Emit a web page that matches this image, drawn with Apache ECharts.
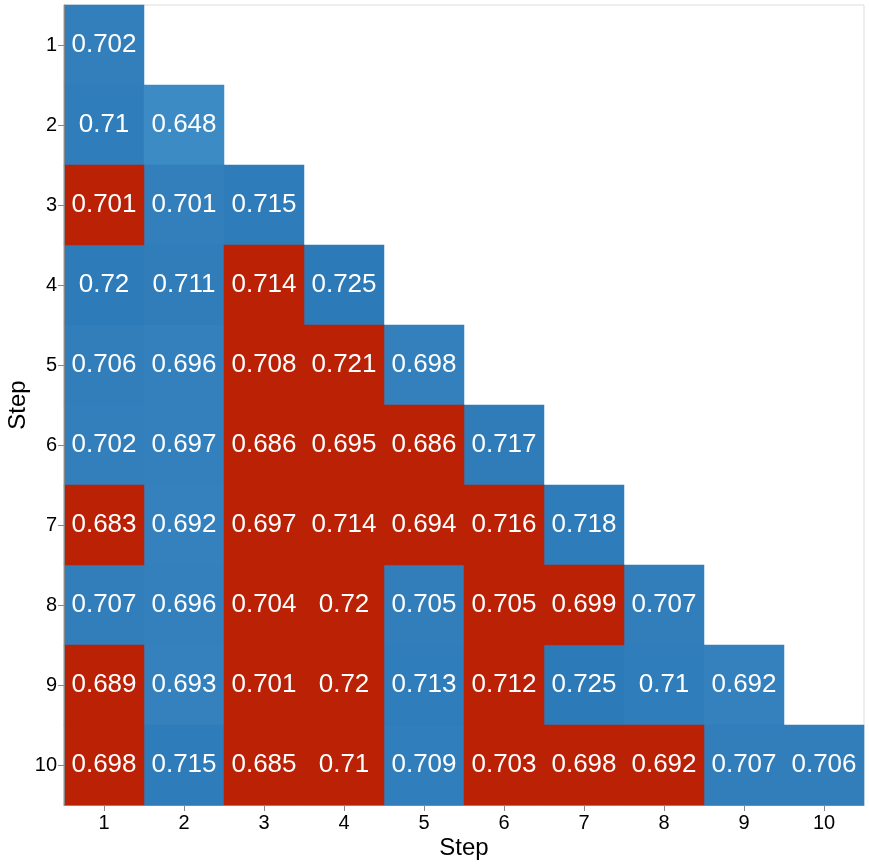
<!DOCTYPE html>
<html>
<head>
<meta charset="utf-8">
<script src="https://cdn.jsdelivr.net/npm/echarts@6/dist/echarts.min.js"></script>
<style>
  html, body { margin: 0; padding: 0; background: #fff; }
  #chart { width: 869px; height: 866px; }
</style>
</head>
<body>
<div id="chart"></div>
<script>
// step labels for both axes
const steps = ["1", "2", "3", "4", "5", "6", "7", "8", "9", "10"];

// lower triangle, one row per y step
const values = [
  [0.702],
  [0.71, 0.648],
  [0.701, 0.701, 0.715],
  [0.72, 0.711, 0.714, 0.725],
  [0.706, 0.696, 0.708, 0.721, 0.698],
  [0.702, 0.697, 0.686, 0.695, 0.686, 0.717],
  [0.683, 0.692, 0.697, 0.714, 0.694, 0.716, 0.718],
  [0.707, 0.696, 0.704, 0.72, 0.705, 0.705, 0.699, 0.707],
  [0.689, 0.693, 0.701, 0.72, 0.713, 0.712, 0.725, 0.71, 0.692],
  [0.698, 0.715, 0.685, 0.71, 0.709, 0.703, 0.698, 0.692, 0.707, 0.706]
];

// 1 = red cell
const flagged = [
  [0],
  [0, 0],
  [1, 0, 0],
  [0, 0, 1, 0],
  [0, 0, 1, 1, 0],
  [0, 0, 1, 1, 1, 0],
  [1, 0, 1, 1, 1, 1, 0],
  [0, 0, 1, 1, 0, 1, 1, 0],
  [1, 0, 1, 1, 0, 1, 0, 0, 0],
  [1, 0, 1, 1, 0, 1, 1, 1, 0, 0]
];

const blueData = [];
const redData = [];
values.forEach((row, yi) => {
  row.forEach((v, xi) => {
    const item = [xi, yi, v];
    if (flagged[yi][xi]) redData.push(item);
    else blueData.push(item);
  });
});

const chart = echarts.init(document.getElementById("chart"));

const cellLabel = {
  show: true,
  color: "#fff",
  fontSize: 26,
  fontFamily: "Liberation Sans",
  formatter: (p) => String(p.value[2])
};

const tickStyle = {
  show: true,
  alignWithLabel: true,
  length: 6,
  lineStyle: { color: "#888", width: 1 }
};

chart.setOption({
  animation: false,
  textStyle: { fontFamily: "Liberation Sans" },
  grid: {
    left: 64,
    top: 5,
    width: 800,
    height: 800,
    outerBoundsMode: "none",
    containLabel: false,
    show: true,
    borderColor: "#dddddd",
    borderWidth: 1
  },
  xAxis: {
    type: "category",
    data: steps,
    z: 5,
    name: "Step",
    nameLocation: "middle",
    nameGap: 31,
    nameMoveOverlap: false,
    nameTextStyle: { fontSize: 24, color: "#000" },
    axisLine: { show: true, lineStyle: { color: "#888" } },
    axisTick: tickStyle,
    axisLabel: { fontSize: 20, color: "#000", margin: 8 },
    splitLine: { show: false }
  },
  yAxis: {
    type: "category",
    data: steps,
    inverse: true,
    z: 5,
    name: "Step",
    nameLocation: "middle",
    nameGap: 34,
    nameMoveOverlap: false,
    nameTextStyle: { fontSize: 24, color: "#000" },
    axisLine: { show: true, lineStyle: { color: "#888" } },
    axisTick: tickStyle,
    axisLabel: { fontSize: 20, color: "#000", margin: 7 },
    splitLine: { show: false }
  },
  visualMap: {
    show: false,
    seriesIndex: 0,
    dimension: 2,
    min: 0.648,
    max: 0.725,
    inRange: { color: ["#3d8bc5", "#2d7ab8"] }
  },
  series: [
    {
      type: "heatmap",
      data: blueData,
      label: cellLabel,
      emphasis: { disabled: true }
    },
    {
      type: "heatmap",
      data: redData,
      itemStyle: { color: "#ba2105" },
      label: cellLabel,
      emphasis: { disabled: true }
    }
  ]
});
</script>
</body>
</html>
